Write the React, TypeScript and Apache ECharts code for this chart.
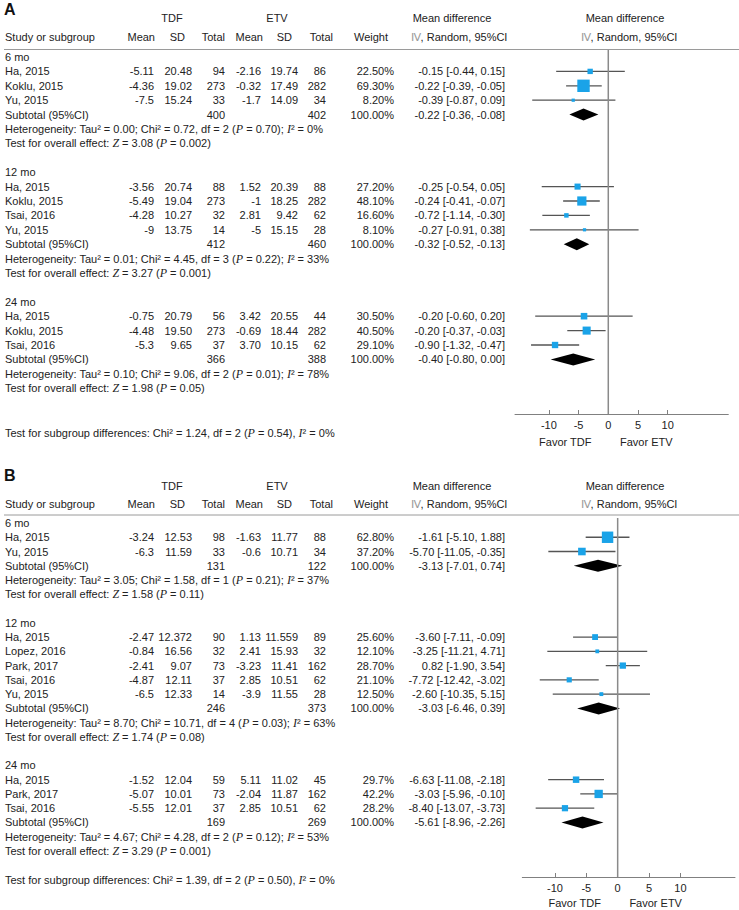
import React, { useEffect, useRef } from 'react';
import * as echarts from 'echarts';

const FONT = '"Liberation Sans", Arial, sans-serif';
const SERIF = '"Liberation Serif", "Times New Roman", serif';
const INK = '#222222';

// ---------- Panel A ----------
const a6Table = [
  ['Ha, 2015', '-5.11', '20.48', '94', '-2.16', '19.74', '86', '22.50%', '-0.15 [-0.44, 0.15]'],
  ['Koklu, 2015', '-4.36', '19.02', '273', '-0.32', '17.49', '282', '69.30%', '-0.22 [-0.39, -0.05]'],
  ['Yu, 2015', '-7.5', '15.24', '33', '-1.7', '14.09', '34', '8.20%', '-0.39 [-0.87, 0.09]'],
];
const a6Subtotal = ['400', '402', '100.00%', '-0.22 [-0.36, -0.08]'];
const a6Het = ['0.00', '0.72', '2', '0.70', '0%'];
const a6Overall = ['3.08', '0.002'];
const a6Weight = [22.5, 69.3, 8.2];
const a6Est = [-3.05, -4.17, -5.9];
const a6Lo = [-8.77, -7.1, -12.8];
const a6Hi = [2.78, -1.1, 1.2];
const a6Pooled = [-4.17, -6.55, -1.67];

const a12Table = [
  ['Ha, 2015', '-3.56', '20.74', '88', '1.52', '20.39', '88', '27.20%', '-0.25 [-0.54, 0.05]'],
  ['Koklu, 2015', '-5.49', '19.04', '273', '-1', '18.25', '282', '48.10%', '-0.24 [-0.41, -0.07]'],
  ['Tsai, 2016', '-4.28', '10.27', '32', '2.81', '9.42', '62', '16.60%', '-0.72 [-1.14, -0.30]'],
  ['Yu, 2015', '-9', '13.75', '14', '-5', '15.15', '28', '8.10%', '-0.27 [-0.91, 0.38]'],
];
const a12Subtotal = ['412', '460', '100.00%', '-0.32 [-0.52, -0.13]'];
const a12Het = ['0.01', '4.45', '3', '0.22', '33%'];
const a12Overall = ['3.27', '0.001'];
const a12Weight = [27.2, 48.1, 16.6, 8.1];
const a12Est = [-5.17, -4.45, -7.05, -4.0];
const a12Lo = [-11.2, -7.6, -11.1, -13.2];
const a12Hi = [0.95, -1.43, -3.1, 5.1];
const a12Pooled = [-5.3, -7.5, -3.2];

const a24Table = [
  ['Ha, 2015', '-0.75', '20.79', '56', '3.42', '20.55', '44', '30.50%', '-0.20 [-0.60, 0.20]'],
  ['Koklu, 2015', '-4.48', '19.50', '273', '-0.69', '18.44', '282', '40.50%', '-0.20 [-0.37, -0.03]'],
  ['Tsai, 2016', '-5.3', '9.65', '37', '3.70', '10.15', '62', '29.10%', '-0.90 [-1.32, -0.47]'],
];
const a24Subtotal = ['366', '388', '100.00%', '-0.40 [-0.80, 0.00]'];
const a24Het = ['0.10', '9.06', '2', '0.01', '78%'];
const a24Overall = ['1.98', '0.05'];
const a24Weight = [30.5, 40.5, 29.1];
const a24Est = [-4.08, -3.64, -8.96];
const a24Lo = [-12.3, -6.9, -13.0];
const a24Hi = [4.1, -0.45, -4.9];
const a24Pooled = [-5.9, -9.7, -2.2];

const aSubgroupTest = ['1.24', '2', '0.54', '0%'];

// ---------- Panel B ----------
const b6Table = [
  ['Ha, 2015', '-3.24', '12.53', '98', '-1.63', '11.77', '88', '62.80%', '-1.61 [-5.10, 1.88]'],
  ['Yu, 2015', '-6.3', '11.59', '33', '-0.6', '10.71', '34', '37.20%', '-5.70 [-11.05, -0.35]'],
];
const b6Subtotal = ['131', '122', '100.00%', '-3.13 [-7.01, 0.74]'];
const b6Het = ['3.05', '1.58', '1', '0.21', '37%'];
const b6Overall = ['1.58', '0.11'];
const b6Weight = [62.8, 37.2];
const b6Est = [-1.61, -5.7];
const b6Lo = [-5.1, -11.05];
const b6Hi = [1.88, -0.35];
const b6Pooled = [-3.13, -7.01, 0.74];

const b12Table = [
  ['Ha, 2015', '-2.47', '12.372', '90', '1.13', '11.559', '89', '25.60%', '-3.60 [-7.11, -0.09]'],
  ['Lopez, 2016', '-0.84', '16.56', '32', '2.41', '15.93', '32', '12.10%', '-3.25 [-11.21, 4.71]'],
  ['Park, 2017', '-2.41', '9.07', '73', '-3.23', '11.41', '162', '28.70%', '0.82 [-1.90, 3.54]'],
  ['Tsai, 2016', '-4.87', '12.11', '37', '2.85', '10.51', '62', '21.10%', '-7.72 [-12.42, -3.02]'],
  ['Yu, 2015', '-6.5', '12.33', '14', '-3.9', '11.55', '28', '12.50%', '-2.60 [-10.35, 5.15]'],
];
const b12Subtotal = ['246', '373', '100.00%', '-3.03 [-6.46, 0.39]'];
const b12Het = ['8.70', '10.71', '4', '0.03', '63%'];
const b12Overall = ['1.74', '0.08'];
const b12Weight = [25.6, 12.1, 28.7, 21.1, 12.5];
const b12Est = [-3.6, -3.25, 0.82, -7.72, -2.6];
const b12Lo = [-7.11, -11.21, -1.9, -12.42, -10.35];
const b12Hi = [-0.09, 4.71, 3.54, -3.02, 5.15];
const b12Pooled = [-3.03, -6.46, 0.39];

const b24Table = [
  ['Ha, 2015', '-1.52', '12.04', '59', '5.11', '11.02', '45', '29.7%', '-6.63 [-11.08, -2.18]'],
  ['Park, 2017', '-5.07', '10.01', '73', '-2.04', '11.87', '162', '42.2%', '-3.03 [-5.96, -0.10]'],
  ['Tsai, 2016', '-5.55', '12.01', '37', '2.85', '10.51', '62', '28.2%', '-8.40 [-13.07, -3.73]'],
];
const b24Subtotal = ['169', '269', '100.00%', '-5.61 [-8.96, -2.26]'];
const b24Het = ['4.67', '4.28', '2', '0.12', '53%'];
const b24Overall = ['3.29', '0.001'];
const b24Weight = [29.7, 42.2, 28.2];
const b24Est = [-6.63, -3.03, -8.4];
const b24Lo = [-11.08, -5.96, -13.07];
const b24Hi = [-2.18, -0.1, -3.73];
const b24Pooled = [-5.61, -8.96, -2.26];

const bSubgroupTest = ['1.39', '2', '0.50', '0%'];

const subgroupLabels = ['6 mo', '12 mo', '24 mo'];
const tickValues = [-10, -5, 0, 5, 10];

type Group = {
  label: string; table: string[][]; sub: string[]; het: string[]; overall: string[];
  w: number[]; est: number[]; lo: number[]; hi: number[]; pooled: number[];
};

const panelA: Group[] = [
  { label: subgroupLabels[0], table: a6Table, sub: a6Subtotal, het: a6Het, overall: a6Overall, w: a6Weight, est: a6Est, lo: a6Lo, hi: a6Hi, pooled: a6Pooled },
  { label: subgroupLabels[1], table: a12Table, sub: a12Subtotal, het: a12Het, overall: a12Overall, w: a12Weight, est: a12Est, lo: a12Lo, hi: a12Hi, pooled: a12Pooled },
  { label: subgroupLabels[2], table: a24Table, sub: a24Subtotal, het: a24Het, overall: a24Overall, w: a24Weight, est: a24Est, lo: a24Lo, hi: a24Hi, pooled: a24Pooled },
];
const panelB: Group[] = [
  { label: subgroupLabels[0], table: b6Table, sub: b6Subtotal, het: b6Het, overall: b6Overall, w: b6Weight, est: b6Est, lo: b6Lo, hi: b6Hi, pooled: b6Pooled },
  { label: subgroupLabels[1], table: b12Table, sub: b12Subtotal, het: b12Het, overall: b12Overall, w: b12Weight, est: b12Est, lo: b12Lo, hi: b12Hi, pooled: b12Pooled },
  { label: subgroupLabels[2], table: b24Table, sub: b24Subtotal, het: b24Het, overall: b24Overall, w: b24Weight, est: b24Est, lo: b24Lo, hi: b24Hi, pooled: b24Pooled },
];

type Layout = {
  letter: string; letterY: number; groupY: number; headY: number; lineY: number;
  row0: number; pitch: number; subTestY: number; favorY: number;
  gridLeft: number; gridTop: number; gridW: number; gridBottom: number;
  xMin: number; xMax: number; subTest: string[];
};

const layoutA: Layout = {
  letter: 'A', letterY: 9, groupY: 18, headY: 37, lineY: 49.5, row0: 57, pitch: 14.4,
  subTestY: 433, favorY: 442, gridLeft: 515, gridTop: 50, gridW: 213.3, gridBottom: 414,
  xMin: -15.7, xMax: 20.2, subTest: aSubgroupTest,
};
const layoutB: Layout = {
  letter: 'B', letterY: 475, groupY: 486, headY: 504, lineY: 515, row0: 523, pitch: 14.26,
  subTestY: 880, favorY: 903, gridLeft: 522.3, gridTop: 518, gridW: 212.7, gridBottom: 877,
  xMin: -15.2, xMax: 18.7, subTest: bSubgroupTest,
};

const colRight = [154, 192, 225, 261, 298, 326, 394, 505];
const rich = {
  i: { fontStyle: 'italic', fontFamily: SERIF, fontSize: 12, fill: INK, color: INK },
  g: { fontFamily: SERIF, fontSize: 11, fill: '#9a9a9a', color: '#9a9a9a' },
};

function txt(x: number, y: number, text: string, align = 'left', extra: any = {}) {
  return {
    type: 'text', x, y, silent: true,
    style: {
      text, fill: INK, fontSize: 11, fontFamily: FONT,
      align, textAlign: align, verticalAlign: 'middle', textVerticalAlign: 'middle',
      rich, ...extra,
    },
  };
}

function groupRows(groups: Group[]) {
  const starts: number[] = [];
  let s = 0;
  groups.forEach((g) => {
    starts.push(s);
    s += g.table.length + 5;
  });
  return starts;
}

function panelGraphics(groups: Group[], L: Layout) {
  const els: any[] = [];
  const rowY = (r: number) => L.row0 + r * L.pitch;
  els.push(txt(4, L.letterY, L.letter, 'left', { fontSize: 16, fontWeight: 'bold', fill: '#111' }));
  els.push(txt(172, L.groupY, 'TDF', 'center'));
  els.push(txt(277, L.groupY, 'ETV', 'center'));
  els.push(txt(452, L.groupY, 'Mean difference', 'center'));
  els.push(txt(625, L.groupY, 'Mean difference', 'center'));
  els.push(txt(5, L.headY, 'Study or subgroup'));
  els.push(txt(155, L.headY, 'Mean', 'right'));
  els.push(txt(185, L.headY, 'SD', 'right'));
  els.push(txt(225, L.headY, 'Total', 'right'));
  els.push(txt(263, L.headY, 'Mean', 'right'));
  els.push(txt(292, L.headY, 'SD', 'right'));
  els.push(txt(333, L.headY, 'Total', 'right'));
  els.push(txt(388, L.headY, 'Weight', 'right'));
  els.push(txt(459, L.headY, '{g|Ⅳ}, Random, 95%CI', 'center'));
  els.push(txt(629, L.headY, '{g|Ⅳ}, Random, 95%CI', 'center'));
  els.push({
    type: 'line', silent: true,
    shape: { x1: 4, y1: L.lineY, x2: 739, y2: L.lineY },
    style: { stroke: '#9a9a9a', lineWidth: 1 },
  });
  const starts = groupRows(groups);
  groups.forEach((g, gi) => {
    const s = starts[gi];
    els.push(txt(5, rowY(s), g.label));
    g.table.forEach((row, k) => {
      const y = rowY(s + 1 + k);
      els.push(txt(5, y, row[0]));
      for (let c = 1; c < row.length; c++) els.push(txt(colRight[c - 1], y, row[c], 'right'));
    });
    const sy = rowY(s + 1 + g.table.length);
    els.push(txt(5, sy, 'Subtotal (95%CI)'));
    els.push(txt(colRight[2], sy, g.sub[0], 'right'));
    els.push(txt(colRight[5], sy, g.sub[1], 'right'));
    els.push(txt(colRight[6], sy, g.sub[2], 'right'));
    els.push(txt(colRight[7], sy, g.sub[3], 'right'));
    const h = g.het;
    els.push(txt(5, rowY(s + 2 + g.table.length),
      `Heterogeneity: Tau² = ${h[0]}; Chi² = ${h[1]}, df = ${h[2]} ({i|P} = ${h[3]}); {i|I}² = ${h[4]}`));
    els.push(txt(5, rowY(s + 3 + g.table.length),
      `Test for overall effect: {i|Z} = ${g.overall[0]} ({i|P} = ${g.overall[1]})`));
  });
  const t = L.subTest;
  els.push(txt(5, L.subTestY,
    `Test for subgroup differences: Chi² = ${t[0]}, df = ${t[1]} ({i|P} = ${t[2]}), {i|I}² = ${t[3]}`));
  const zeroPx = L.gridLeft + ((0 - L.xMin) / (L.xMax - L.xMin)) * L.gridW;
  els.push(txt(zeroPx - 43, L.favorY, 'Favor TDF', 'center'));
  els.push(txt(zeroPx + 38, L.favorY, 'Favor ETV', 'center'));
  return els;
}

function panelSeriesData(groups: Group[]) {
  const starts = groupRows(groups);
  const studies: number[][] = [];
  const pooled: number[][] = [];
  groups.forEach((g, gi) => {
    const s = starts[gi];
    g.est.forEach((e, k) => {
      studies.push([e, g.lo[k], g.hi[k], s + 1 + k, g.w[k]]);
    });
    pooled.push([g.pooled[0], g.pooled[1], g.pooled[2], s + 1 + g.table.length]);
  });
  return { studies, pooled };
}

function buildOption() {
  const layouts = [layoutA, layoutB];
  const panels = [panelA, panelB];
  const grid = layouts.map((L) => ({
    left: L.gridLeft, top: L.gridTop, width: L.gridW, height: L.gridBottom - L.gridTop,
    containLabel: false, outerBoundsMode: 'none',
  }));
  const xAxis = layouts.map((L, i) => ({
    type: 'value', gridIndex: i, min: L.xMin, max: L.xMax,
    axisLine: { show: true, onZero: false, lineStyle: { color: '#808080', width: 1 } },
    axisTick: { show: true, inside: true, length: 4, customValues: tickValues, lineStyle: { color: '#808080' } },
    axisLabel: { show: true, customValues: tickValues, color: INK, fontSize: 11, fontFamily: FONT, margin: 5 },
    splitLine: { show: false },
  }));
  const yAxis = layouts.map((L, i) => ({
    type: 'value', gridIndex: i, inverse: true, show: false,
    min: (L.gridTop - L.row0) / L.pitch, max: (L.gridBottom - L.row0) / L.pitch,
    splitLine: { show: false },
  }));
  const series: any[] = [];
  panels.forEach((p, i) => {
    const { studies, pooled } = panelSeriesData(p);
    const ymin = yAxis[i].min, ymax = yAxis[i].max;
    series.push({
      type: 'line', xAxisIndex: i, yAxisIndex: i, silent: true, showSymbol: false,
      data: [[0, ymin], [0, ymax]],
      lineStyle: { color: '#8a8a8a', width: 1.5 },
    });
    series.push({
      type: 'custom', xAxisIndex: i, yAxisIndex: i, silent: true, clip: false,
      encode: { x: [0, 1, 2], y: 3 },
      data: studies,
      renderItem: (params: any, api: any) => {
        const est = api.value(0), lo = api.value(1), hi = api.value(2), row = api.value(3), w = api.value(4);
        const c = api.coord([est, row]);
        const l = api.coord([lo, row]);
        const h = api.coord([hi, row]);
        const size = 2 + 0.15 * w;
        return {
          type: 'group',
          children: [
            { type: 'line', shape: { x1: l[0], y1: l[1], x2: h[0], y2: h[1] }, style: { stroke: '#555555', lineWidth: 1.3 } },
            { type: 'rect', shape: { x: c[0] - size / 2, y: c[1] - size / 2, width: size, height: size }, style: { fill: '#1aa3e8' } },
          ],
        };
      },
    });
    series.push({
      type: 'custom', xAxisIndex: i, yAxisIndex: i, silent: true, clip: false,
      encode: { x: [0, 1, 2], y: 3 },
      data: pooled,
      renderItem: (params: any, api: any) => {
        const est = api.value(0), lo = api.value(1), hi = api.value(2), row = api.value(3);
        const c = api.coord([est, row]);
        const l = api.coord([lo, row]);
        const h = api.coord([hi, row]);
        const hh = 6;
        return {
          type: 'polygon',
          shape: { points: [[l[0], l[1]], [c[0], c[1] - hh], [h[0], h[1]], [c[0], c[1] + hh]] },
          style: { fill: '#000000' },
        };
      },
    });
  });
  const graphic = [...panelGraphics(panelA, layoutA), ...panelGraphics(panelB, layoutB)];
  return { animation: false, backgroundColor: '#ffffff', grid, xAxis, yAxis, series, graphic: { elements: graphic } };
}

export default function App() {
  const ref = useRef<HTMLDivElement>(null);
  useEffect(() => {
    if (!ref.current) return;
    const chart = echarts.init(ref.current, undefined, { renderer: 'svg' });
    chart.setOption(buildOption() as any);
    return () => chart.dispose();
  }, []);
  return <div ref={ref} style={{ position: 'absolute', left: 0, top: 0, width: 739, height: 910 }} />;
}
